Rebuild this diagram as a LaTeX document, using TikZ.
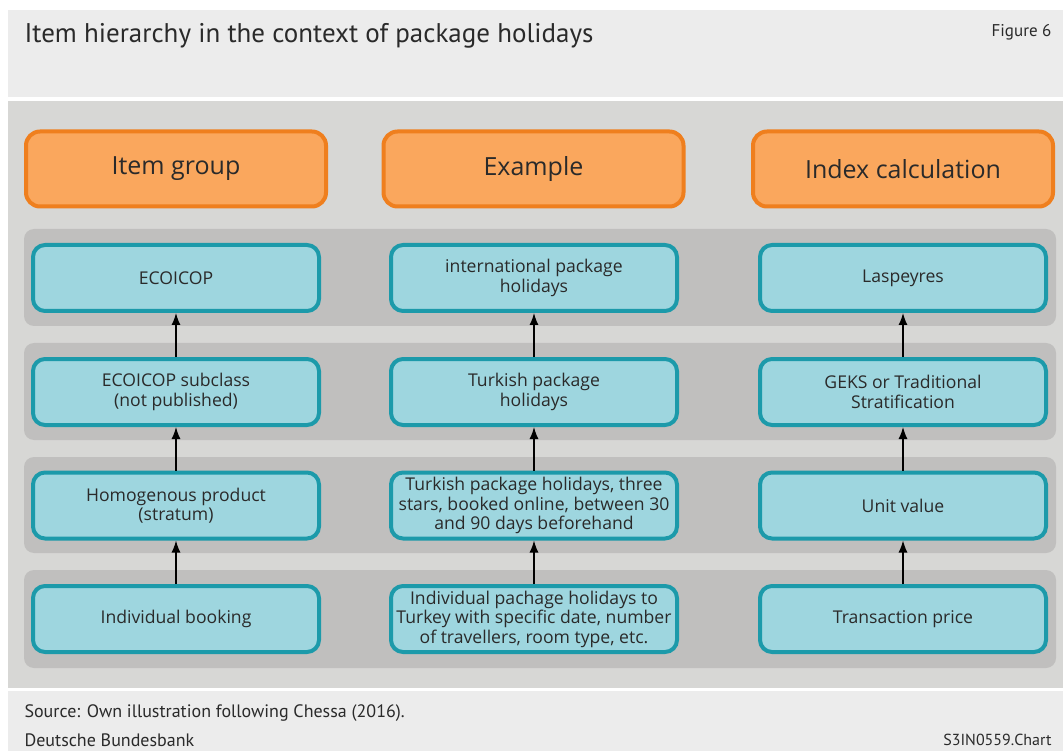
\documentclass[tikz,border=0pt]{standalone}
\usepackage{fontspec}
\setmainfont{Open Sans}
\newfontfamily\headfont{PT Sans}
\usetikzlibrary{arrows.meta}

\definecolor{headgray}{HTML}{ECECEC}
\definecolor{panelgray}{HTML}{D7D7D5}
\definecolor{bandgray}{HTML}{C0BFBE}
\definecolor{orangefill}{HTML}{FAA75D}
\definecolor{orangeline}{HTML}{EF7F1E}
\definecolor{tealfill}{HTML}{9ED6DF}
\definecolor{tealline}{HTML}{1C9AAA}
\definecolor{textgray}{HTML}{2A2A2A}

\begin{document}
\begin{tikzpicture}[x=1pt,y=-1pt,text=textgray,
    headbox/.style={draw=orangeline,fill=orangefill,line width=4pt,rounded corners=14pt,
        minimum width=300pt,minimum height=75pt,font=\fontsize{25}{30}\selectfont},
    itembox/.style={draw=tealline,fill=tealfill,line width=4pt,rounded corners=12pt,
        minimum width=286pt,minimum height=66pt,align=center,font=\fontsize{17.6}{19.5}\selectfont},
    band/.style={fill=bandgray,rounded corners=10pt},
    uparrow/.style={-{Latex[length=12pt,width=9pt]},line width=1.3pt,black}]
    \useasboundingbox[fill=white] (0,0) rectangle (1063,751);

    % panels
    \fill[headgray] (8,10) rectangle (1063,97);
    \fill[panelgray] (8,101) rectangle (1063,688);
    \fill[headgray] (8,691) rectangle (1063,751);

    \node[anchor=west,font=\headfont\fontsize{27}{32}\selectfont] (title) at (21,36) {Item hierarchy in the context of package holidays};
    \node[anchor=east,font=\headfont\fontsize{17}{20}\selectfont] (fig) at (1055,32) {Figure 6};

    % grey bands behind the rows
    \fill[band] (24,229) rectangle (1056,326);
    \fill[band] (24,343) rectangle (1056,440);
    \fill[band] (24,457) rectangle (1056,553);
    \fill[band] (24,570) rectangle (1056,668);

    % column heads
    \node[headbox] (group) at (176,169) {Item group};
    \node[headbox] (example) at (533.5,169) {Example};
    \node[headbox] (index) at (903,169) {Index calculation};

    % item group
    \node[itembox] (eco) at (176,278) {ECOICOP};
    \node[itembox] (ecosub) at (176,392) {ECOICOP subclass\\(not published)};
    \node[itembox] (homog) at (176,505.5) {Homogenous product\\(stratum)};
    \node[itembox] (booking) at (176,619) {Individual booking};

    % example
    \node[itembox] (intl) at (534,278) {international package\\holidays};
    \node[itembox] (turk) at (534,392) {Turkish package\\holidays};
    \node[itembox] (turkstars) at (534,505.5) {Turkish package holidays, three\\stars, booked online, between 30\\and 90 days beforehand};
    \node[itembox] (turkind) at (534,619) {Individual pachage holidays to\\Turkey with specific date, number\\of travellers, room type, etc.};

    % index calculation
    \node[itembox] (lasp) at (903,278) {Laspeyres};
    \node[itembox] (geks) at (903,392) {GEKS or Traditional\\Stratification};
    \node[itembox] (unit) at (903,505.5) {Unit value};
    \node[itembox] (price) at (903,619) {Transaction price};

    \draw[uparrow] (ecosub) -- (eco);
    \draw[uparrow] (homog) -- (ecosub);
    \draw[uparrow] (booking) -- (homog);
    \draw[uparrow] (turk) -- (intl);
    \draw[uparrow] (turkstars) -- (turk);
    \draw[uparrow] (turkind) -- (turkstars);
    \draw[uparrow] (geks) -- (lasp);
    \draw[uparrow] (unit) -- (geks);
    \draw[uparrow] (price) -- (unit);

    % footer
    \node[anchor=west,font=\headfont\fontsize{18}{20}\selectfont] (source) at (21,713) {Source: Own illustration following Chessa (2016).};
    \node[anchor=west,font=\headfont\fontsize{18}{20}\selectfont] (bank) at (21,740) {Deutsche Bundesbank};
    \node[anchor=east,font=\headfont\fontsize{16}{20}\selectfont] (chart) at (1055,740) {S3IN0559.Chart};
\end{tikzpicture}
\end{document}
